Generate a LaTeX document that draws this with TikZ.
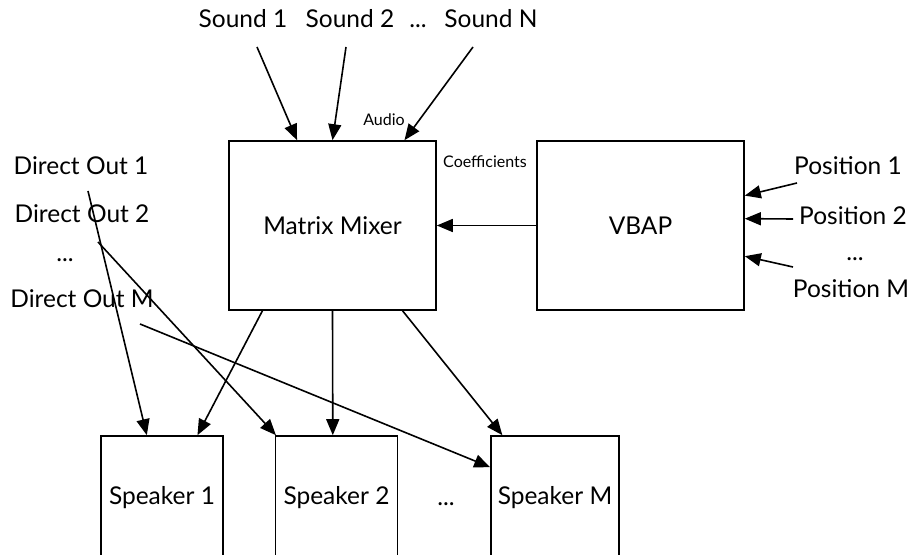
\documentclass[tikz,border=0pt]{standalone}
\usepackage{fontspec}
\setmainfont{Lato}
\usetikzlibrary{arrows.meta,calc}

\begin{document}
\begin{tikzpicture}[x=1pt, y=1pt,
            every node/.style = {font=\fontsize{24.5}{28}\selectfont},
            box/.style = {shape=rectangle, draw, line width=1.6pt,
                          minimum width=207pt, minimum height=169pt, inner sep=0pt},
            spk/.style = {box, minimum width=122pt, minimum height=124pt},
            lbl/.style = {inner sep=0pt, anchor=base},
            tiny/.style = {lbl, font=\fontsize{16}{19}\selectfont},
            arr/.style = {-{Triangle[length=16pt, width=13pt]}, line width=1.6pt}]
    \useasboundingbox (0,0) rectangle (912,554);
    \clip (0,0) rectangle (912,554);
    \node[box] (mix) at (332.5,328.5) {Matrix Mixer};
    \node[box] (vbap) at (640.5,328.5) {VBAP};
    \node[spk] (spk1) at (162,56) {Speaker 1};
    \node[spk] (spk2) at (336.5,56) {Speaker 2};
    \node[spk, minimum width=128pt] (spkM) at (555,56) {Speaker M};
    \node[lbl] (spdots) at (446,49) {...};
    \node[lbl] (snd1) at (243,526) {Sound 1};
    \node[lbl] (snd2) at (350,526) {Sound 2};
    \node[lbl] (sdots) at (418,526) {...};
    \node[lbl] (sndN) at (491,526) {Sound N};
    \node[tiny] (audio) at (384,428) {Audio};
    \node[tiny] (coef) at (485,386) {Coefficients};
    \node[lbl] (do1) at (81,379) {Direct Out 1};
    \node[lbl] (do2) at (82,331) {Direct Out 2};
    \node[lbl] (ddots) at (65,292) {...};
    \node[lbl] (doM) at (82,246) {Direct Out M};
    \node[lbl] (pos1) at (848,379) {Position 1};
    \node[lbl] (pos2) at (853,329) {Position 2};
    \node[lbl] (pdots) at (855,293) {...};
    \node[lbl] (posM) at (851,256) {Position M};
    \draw[arr] ([shift={(14,-19)}]snd1.base) -- ($(mix.north west)!.33!(mix.north east)$);
    \draw[arr] ([shift={(-4,-19)}]snd2.base) -- ($(mix.north west)!.5!(mix.north east)$);
    \draw[arr] ([shift={(-18,-19)}]sndN.base) -- ($(mix.north west)!.845!(mix.north east)$);
    \draw[arr] (vbap) -- (mix);
    \draw[arr] ([shift={(-51,-8)}]pos1.base) -- ($(vbap.north east)!.325!(vbap.south east)$);
    \draw[arr] ([shift={(-60,6)}]pos2.base) -- ($(vbap.north east)!.46!(vbap.south east)$);
    \draw[arr] ([shift={(-58,31)}]posM.base) -- ($(vbap.north east)!.68!(vbap.south east)$);
    \draw[arr] ($(mix.south west)!.164!(mix.south east)$) -- ($(spk1.north west)!.787!(spk1.north east)$);
    \draw[arr] ($(mix.south west)!.5!(mix.south east)$) -- ($(spk2.north west)!.47!(spk2.north east)$);
    \draw[arr] ($(mix.south west)!.836!(mix.south east)$) -- ($(spkM.north west)!.094!(spkM.north east)$);
    \draw[arr] ([shift={(7,-16)}]do1.base) -- ($(spk1.north west)!.377!(spk1.north east)$);
    \draw[arr] ([shift={(16,-19)}]do2.base) -- ($(spk2.north west)!.01!(spk2.north east)$);
    \draw[arr] ([shift={(58,-16)}]doM.base) -- ([yshift=-32pt]spkM.north west);
\end{tikzpicture}
\end{document}
